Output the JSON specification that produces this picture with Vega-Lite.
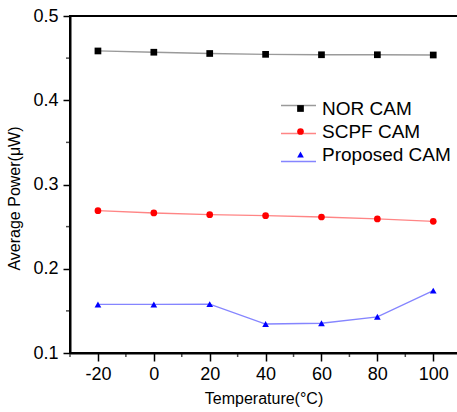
{
  "$schema": "https://vega.github.io/schema/vega-lite/v6.json",
  "width": 387,
  "height": 337,
  "autosize": {"type": "pad"},
  "padding": {"left": 6, "top": 7, "right": 0, "bottom": 6},
  "background": "white",
  "config": {
    "view": {"stroke": null},
    "font": "Liberation Sans",
    "axis": {
      "grid": false,
      "labelColor": "black",
      "labelFont": "Liberation Sans",
      "labelFontSize": 18,
      "labelOverlap": false,
      "titleFont": "Liberation Sans",
      "titleFontWeight": "normal",
      "titleFontSize": 16,
      "titleColor": "black"
    }
  },
  "datasets": {
    "main": [
      {"t": -20, "series": "NOR CAM", "p": 0.4585},
      {"t": 0, "series": "NOR CAM", "p": 0.457},
      {"t": 20, "series": "NOR CAM", "p": 0.4555},
      {"t": 40, "series": "NOR CAM", "p": 0.4545},
      {"t": 60, "series": "NOR CAM", "p": 0.454},
      {"t": 80, "series": "NOR CAM", "p": 0.454},
      {"t": 100, "series": "NOR CAM", "p": 0.4537},
      {"t": -20, "series": "SCPF CAM", "p": 0.2689},
      {"t": 0, "series": "SCPF CAM", "p": 0.2662},
      {"t": 20, "series": "SCPF CAM", "p": 0.2642},
      {"t": 40, "series": "SCPF CAM", "p": 0.263},
      {"t": 60, "series": "SCPF CAM", "p": 0.2614},
      {"t": 80, "series": "SCPF CAM", "p": 0.2591},
      {"t": 100, "series": "SCPF CAM", "p": 0.2563},
      {"t": -20, "series": "Proposed CAM", "p": 0.1576},
      {"t": 0, "series": "Proposed CAM", "p": 0.1576},
      {"t": 20, "series": "Proposed CAM", "p": 0.158},
      {"t": 40, "series": "Proposed CAM", "p": 0.1344},
      {"t": 60, "series": "Proposed CAM", "p": 0.1353},
      {"t": 80, "series": "Proposed CAM", "p": 0.143},
      {"t": 100, "series": "Proposed CAM", "p": 0.174}
    ],
    "frame": [
      {"edge": "left", "o": 1, "x": -30, "y": 0.1},
      {"edge": "left", "o": 2, "x": -30, "y": 0.5},
      {"edge": "bottom", "o": 1, "x": -30, "y": 0.1},
      {"edge": "bottom", "o": 2, "x": 108.5, "y": 0.1},
      {"edge": "top", "o": 1, "x": -30, "y": 0.5},
      {"edge": "top", "o": 2, "x": 108.5, "y": 0.5}
    ],
    "xminor": [{"v": -30}, {"v": -10}, {"v": 10}, {"v": 30}, {"v": 50}, {"v": 70}, {"v": 90}],
    "yminor": [{"v": 0.15}, {"v": 0.25}, {"v": 0.35}, {"v": 0.45}]
  },
  "resolve": {
    "legend": {"stroke": "independent", "fill": "independent", "shape": "independent"}
  },
  "layer": [
    {
      "data": {"name": "main"},
      "mark": {"type": "line", "strokeWidth": 1.3},
      "encoding": {
        "x": {
          "field": "t", "type": "quantitative",
          "scale": {"domain": [-30, 108.5], "nice": false, "zero": false},
          "axis": {
            "orient": "bottom",
            "domain": true, "ticks": true, "grid": false,
            "domainColor": "black", "domainWidth": 2,
            "tickColor": "black", "tickWidth": 1.5, "tickSize": 8,
            "values": [-20, 0, 20, 40, 60, 80, 100],
            "labelExpr": "'' + datum.value",
            "labelPadding": 4,
            "title": "Temperature(°C)",
            "titleY": 45,
            "titleBaseline": "middle"
          }
        },
        "y": {
          "field": "p", "type": "quantitative",
          "scale": {"domain": [0.1, 0.5], "nice": false, "zero": false},
          "axis": {
            "orient": "left",
            "domain": true, "ticks": true, "grid": false,
            "domainColor": "black", "domainWidth": 2,
            "tickColor": "black", "tickWidth": 1.5, "tickSize": 7,
            "values": [0.1, 0.2, 0.3, 0.4, 0.5],
            "format": ".1f",
            "labelPadding": 5,
            "title": "Average Power(μW)",
            "titleX": -56,
            "titleY": 182,
            "titleAngle": 270,
            "titleAlign": "center",
            "titleBaseline": "middle"
          }
        },
        "detail": {"field": "series"},
        "stroke": {
          "field": "series", "type": "nominal",
          "scale": {"domain": ["NOR CAM", "SCPF CAM", "Proposed CAM"], "range": ["#9a9a9a", "#ff8585", "#8585ff"]},
          "legend": {
            "title": null,
            "orient": "none",
            "legendX": 210,
            "legendY": 71,
            "symbolType": "stroke",
            "symbolSize": 1225,
            "symbolStrokeWidth": 1.3,
            "labelFontSize": 18,
            "labelExpr": "''",
            "labelOffset": 0,
            "rowPadding": -4.5,
            "padding": 0
          }
        }
      }
    },
    {
      "data": {"name": "frame"},
      "mark": {"type": "line", "color": "black", "strokeWidth": 2, "strokeCap": "square"},
      "encoding": {
        "x": {"field": "x", "type": "quantitative"},
        "y": {"field": "y", "type": "quantitative"},
        "detail": {"field": "edge"},
        "order": {"field": "o"}
      }
    },
    {
      "data": {"name": "xminor"},
      "mark": {"type": "tick", "orient": "vertical", "color": "black", "size": 4, "thickness": 1.5, "yOffset": 2},
      "encoding": {
        "x": {"field": "v", "type": "quantitative"},
        "y": {"datum": 0.1, "type": "quantitative"}
      }
    },
    {
      "data": {"name": "yminor"},
      "mark": {"type": "tick", "orient": "horizontal", "color": "black", "size": 4, "thickness": 1.5, "xOffset": -2},
      "encoding": {
        "y": {"field": "v", "type": "quantitative"},
        "x": {"datum": -30, "type": "quantitative"}
      }
    },
    {
      "data": {"name": "main"},
      "mark": {"type": "point", "filled": true, "opacity": 1},
      "encoding": {
        "x": {"field": "t", "type": "quantitative"},
        "y": {"field": "p", "type": "quantitative"},
        "fill": {
          "field": "series", "type": "nominal",
          "scale": {"domain": ["NOR CAM", "SCPF CAM", "Proposed CAM"], "range": ["black", "#ff0000", "#0000ff"]},
          "legend": {
            "title": null,
            "orient": "none",
            "legendX": 221,
            "legendY": 83,
            "symbolSize": 45,
            "symbolStrokeWidth": 0,
            "labelFontSize": 19,
            "labelFont": "Liberation Sans",
            "labelColor": "black",
            "labelOffset": 12,
            "rowPadding": 3,
            "padding": 0
          }
        },
        "shape": {
          "field": "series", "type": "nominal",
          "scale": {"domain": ["NOR CAM", "SCPF CAM", "Proposed CAM"], "range": ["square", "circle", "triangle-up"]},
          "legend": {
            "title": null,
            "orient": "none",
            "legendX": 221,
            "legendY": 83,
            "symbolSize": 45,
            "symbolStrokeWidth": 0,
            "labelFontSize": 19,
            "labelFont": "Liberation Sans",
            "labelColor": "black",
            "labelOffset": 12,
            "rowPadding": 3,
            "padding": 0
          }
        },
        "size": {"value": 45}
      }
    }
  ]
}
